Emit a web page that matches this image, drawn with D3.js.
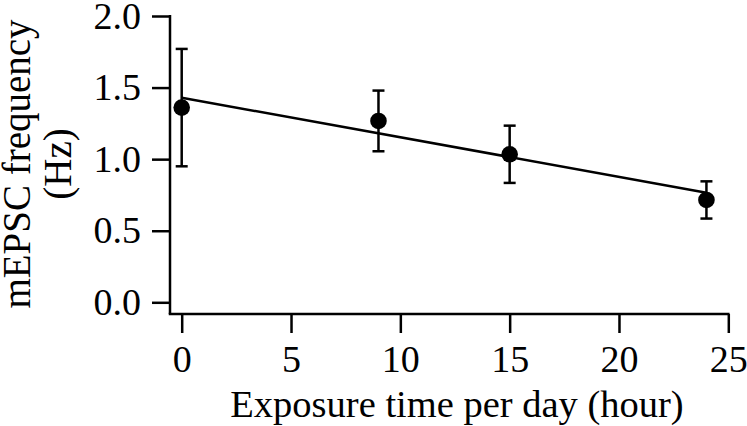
<!DOCTYPE html>
<html>
<head>
<meta charset="utf-8">
<script src="https://cdn.jsdelivr.net/npm/d3@7"></script>
<style>
  body { margin: 0; background: #fff; }
  svg { display: block; }
</style>
</head>
<body>
<svg class="chart" width="747" height="426"></svg>
<script>
// exposure hours per day vs mEPSC frequency
var hours = [0, 9, 15, 24];
var freq = [1.36, 1.267, 1.034, 0.715];
var freqErr = [0.41, 0.212, 0.20, 0.13];

// fitted line
var fitHours = [0, 24];
var fitFreq = [1.429, 0.766];

var xTicks = [0, 5, 10, 15, 20, 25];
var yTicks = [0.0, 0.5, 1.0, 1.5, 2.0];

var font = "'Liberation Serif', 'Times New Roman', serif";

var svg = d3.select(".chart");

var x = d3.scaleLinear()
    .domain([0, 25])
    .range([181.7, 728.3]);

var y = d3.scaleLinear()
    .domain([0, 2])
    .range([302.3, 16]);

var axisX0 = 170,   // left spine position
    axisY0 = 314;   // bottom spine position

// y axis
var yAxis = svg.append("g")
    .attr("transform", "translate(" + axisX0 + ",0)")
    .call(d3.axisLeft(y)
        .tickValues(yTicks)
        .tickFormat(d3.format(".1f"))
        .tickSize(18)
        .tickPadding(11)
        .tickSizeOuter(0));
yAxis.select(".domain").remove();
yAxis.append("line")
    .attr("x1", 0).attr("x2", 0)
    .attr("y1", y(2) - 1).attr("y2", axisY0)
    .attr("stroke", "#000")
    .attr("stroke-width", 2.5);

// x axis
var xAxis = svg.append("g")
    .attr("transform", "translate(0," + axisY0 + ")")
    .call(d3.axisBottom(x)
        .tickValues(xTicks)
        .tickSize(19)
        .tickPadding(12)
        .tickSizeOuter(0));
xAxis.select(".domain").remove();
xAxis.append("line")
    .attr("x1", axisX0 - 1.25).attr("x2", x(25) + 1.25)
    .attr("y1", 0).attr("y2", 0)
    .attr("stroke", "#000")
    .attr("stroke-width", 2.5);

svg.selectAll(".tick line")
    .attr("stroke", "#000")
    .attr("stroke-width", 2.5);
svg.selectAll(".tick text")
    .attr("fill", "#000")
    .attr("font-family", font)
    .attr("font-size", "38px");

// axis titles
svg.append("text")
    .attr("x", 457)
    .attr("y", 417)
    .attr("text-anchor", "middle")
    .attr("font-family", font)
    .attr("font-size", "38.5px")
    .attr("fill", "#000")
    .text("Exposure time per day (hour)");

var yTitle = svg.append("text")
    .attr("transform", "translate(30,164) rotate(-90)")
    .attr("text-anchor", "middle")
    .attr("font-family", font)
    .attr("font-size", "39px")
    .attr("fill", "#000");
yTitle.append("tspan")
    .attr("x", 0)
    .attr("y", 0)
    .text("mEPSC frequency");
yTitle.append("tspan")
    .attr("x", 0)
    .attr("y", 41)
    .text("(Hz)");

// fit line
svg.append("path")
    .datum(d3.zip(fitHours, fitFreq))
    .attr("fill", "none")
    .attr("stroke", "#000")
    .attr("stroke-width", 2.5)
    .attr("d", d3.line()
        .x(function (d) { return x(d[0]); })
        .y(function (d) { return y(d[1]); }));

var pts = hours.map(function (h, i) {
    return { h: h, f: freq[i], e: freqErr[i] };
});

// error bars
var err = svg.selectAll(".err")
    .data(pts)
    .enter().append("g")
    .attr("class", "err")
    .attr("stroke", "#000")
    .attr("stroke-width", 2.5);
err.append("line")
    .attr("x1", d => x(d.h)).attr("x2", d => x(d.h))
    .attr("y1", d => y(d.f + d.e)).attr("y2", d => y(d.f - d.e));
err.append("line")
    .attr("x1", d => x(d.h) - 6).attr("x2", d => x(d.h) + 6)
    .attr("y1", d => y(d.f + d.e)).attr("y2", d => y(d.f + d.e));
err.append("line")
    .attr("x1", d => x(d.h) - 6).attr("x2", d => x(d.h) + 6)
    .attr("y1", d => y(d.f - d.e)).attr("y2", d => y(d.f - d.e));

// markers
svg.selectAll(".dot")
    .data(pts)
    .enter().append("circle")
    .attr("class", "dot")
    .attr("cx", d => x(d.h))
    .attr("cy", d => y(d.f))
    .attr("r", 8.3)
    .attr("fill", "#000");
</script>
</body>
</html>
